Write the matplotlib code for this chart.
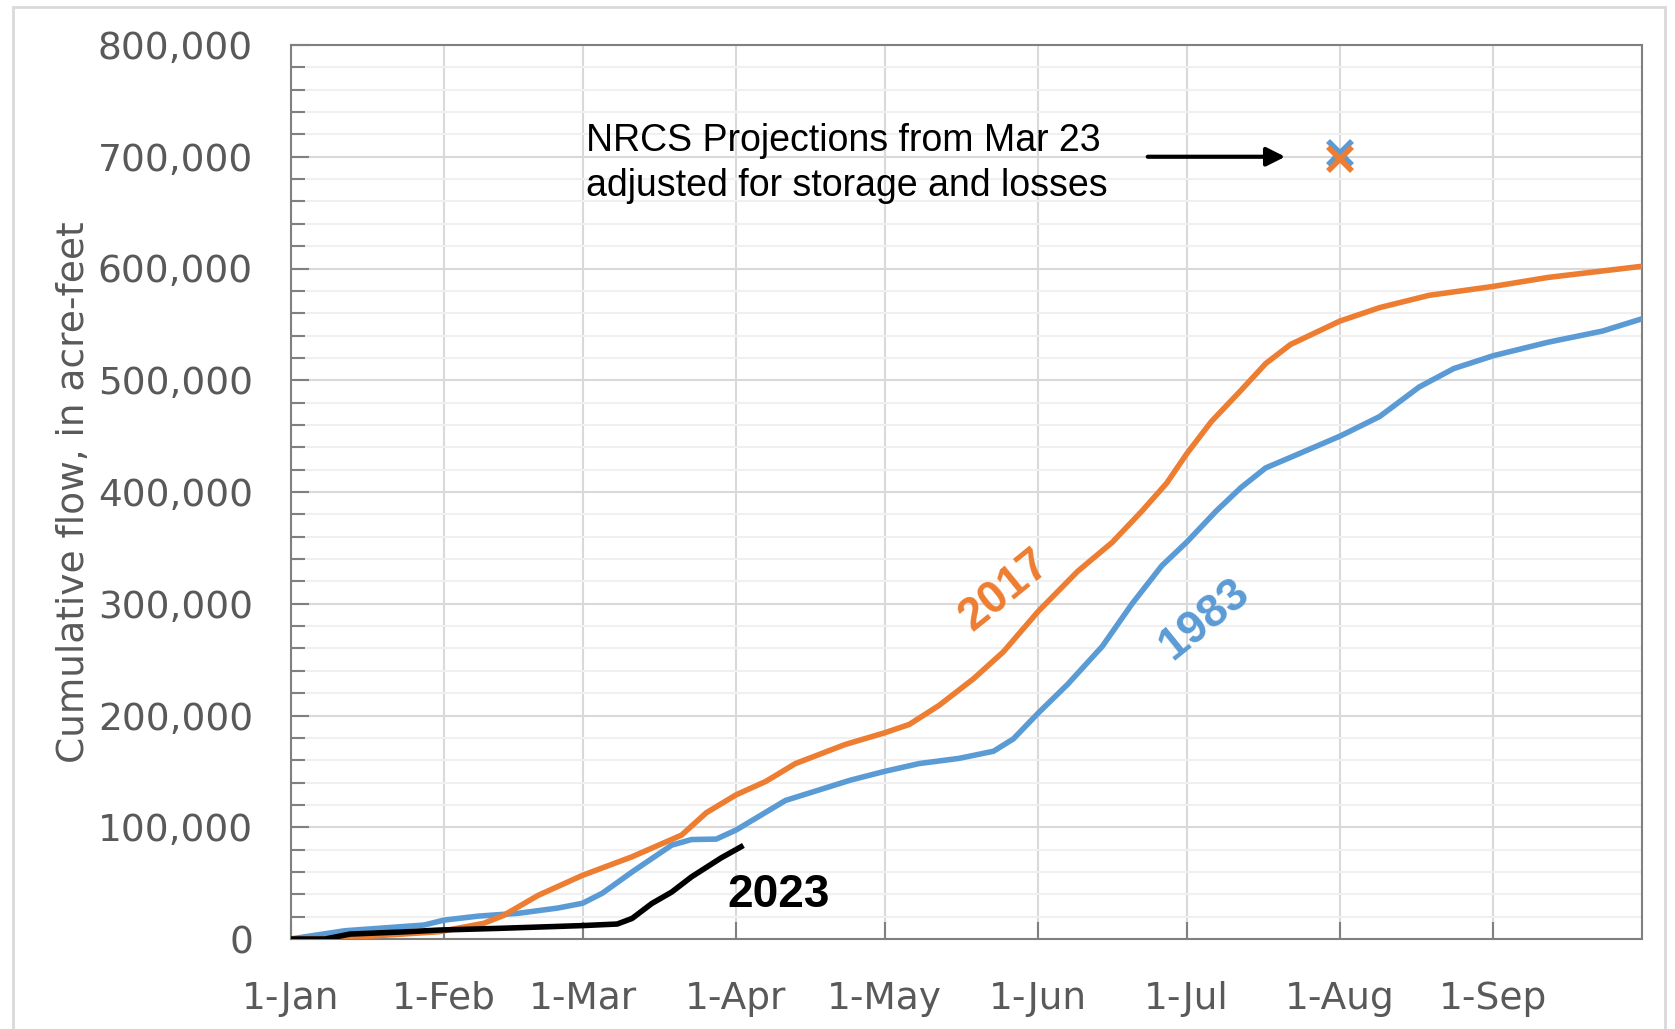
import matplotlib
matplotlib.use('Agg')
import matplotlib.pyplot as plt
from matplotlib.ticker import FuncFormatter, MultipleLocator
from matplotlib.patches import Rectangle

# day of year (0 = 1-Jan) and cumulative flow, acre-feet
days_1983 = [0, 11, 27, 31, 38, 46, 54, 59, 63, 69, 77, 81, 86, 90, 100, 113, 120, 127,
             135, 142, 146, 151, 157, 164, 170, 176, 181, 187, 192, 197, 202, 212, 220,
             228, 235, 243, 254, 265, 273]
flow_1983 = [0, 7400, 12500, 16900, 20500, 23000, 27700, 32000, 41000, 60000, 84000,
             89000, 89400, 97500, 124000, 142000, 150000, 157000, 161600, 168000, 179000,
             202000, 228000, 262000, 300000, 334000, 355000, 383000, 404000, 421600,
             431000, 450000, 467500, 494000, 510500, 522000, 534000, 544000, 555000]

days_2017 = [0, 7, 30, 39, 43, 50, 59, 69, 79, 84, 90, 96, 102, 112, 120, 125, 131, 138,
             144, 151, 159, 166, 172, 177, 181, 186, 192, 197, 202, 212, 220, 230, 243,
             254, 273]
flow_2017 = [0, 0, 6500, 14000, 21000, 39000, 57000, 73600, 93000, 113000, 129000,
             141000, 157000, 174000, 184500, 192000, 209000, 233000, 257000, 293000,
             329000, 355000, 383000, 408000, 434000, 463000, 491000, 515000, 532000,
             553000, 565000, 576000, 584000, 592000, 602000]

days_2023 = [0, 7, 12, 23, 30, 42, 59, 66, 69, 73, 77, 81, 87, 91]
flow_2023 = [0, 0, 4400, 6400, 8000, 9500, 12000, 13400, 18400, 31800, 42000, 55600,
             72600, 82500]

# NRCS projections (1-Aug)
proj_day = 212
proj_1983 = 703000
proj_2017 = 698000

month_days = [0, 31, 59, 90, 120, 151, 181, 212, 243]
month_labels = ['1-Jan', '1-Feb', '1-Mar', '1-Apr', '1-May', '1-Jun', '1-Jul', '1-Aug', '1-Sep']

BLUE = '#5B9BD5'
ORANGE = '#ED7D31'
GRAY = '#595959'

fig = plt.figure(figsize=(16.75, 10.29), dpi=100)
fig.patches.append(Rectangle((13 / 1675, -0.05), (1665 - 13) / 1675, 1.05 - 7 / 1029,
                             transform=fig.transFigure, fill=False,
                             edgecolor='#d9d9d9', lw=2))
ax = fig.add_axes([290.5 / 1675, 90 / 1029, (1642 - 290.5) / 1675, (939 - 45) / 1029])

ax.plot(days_1983, flow_1983, color=BLUE, lw=4, zorder=3, solid_joinstyle='round')
ax.plot(days_2017, flow_2017, color=ORANGE, lw=4, zorder=3, solid_joinstyle='round')
ax.plot(days_2023, flow_2023, color='black', lw=4, zorder=4, solid_joinstyle='round')
ax.plot([proj_day], [proj_1983], marker='x', color=BLUE, ms=17, mew=4, zorder=5)
ax.plot([proj_day], [proj_2017], marker='x', color=ORANGE, ms=17, mew=4, zorder=5)

ax.set_xlim(0, 273)
ax.set_ylim(0, 800000)
ax.set_xticks(month_days)
ax.set_xticklabels(month_labels)
ax.yaxis.set_major_locator(MultipleLocator(100000))
ax.yaxis.set_minor_locator(MultipleLocator(20000))
ax.yaxis.set_major_formatter(FuncFormatter(lambda v, p: '{:,.0f}'.format(v)))

ax.grid(axis='x', which='major', color='#d9d9d9', lw=1.5, zorder=0)
ax.grid(axis='y', which='major', color='#d9d9d9', lw=1.5, zorder=0)
ax.grid(axis='y', which='minor', color='#f0f0f0', lw=1.5, zorder=0)
ax.set_axisbelow(True)

for s in ax.spines.values():
    s.set_color('#808080')
    s.set_linewidth(1.5)

ax.tick_params(axis='y', which='major', direction='in', length=13, width=1.5,
               color='#808080', labelsize=27, labelcolor=GRAY, pad=27)
ax.tick_params(axis='y', which='minor', direction='in', length=10, width=1.5, color='#808080')
ax.tick_params(axis='x', which='major', direction='in', length=12, width=1.5,
               color='#808080', labelsize=27, labelcolor=GRAY, pad=30)
ax.set_ylabel('Cumulative flow, in acre-feet', fontsize=27, color=GRAY, labelpad=4)

ax.text(59.6, 694000, 'NRCS Projections from Mar 23\nadjusted for storage and losses',
        fontsize=27, family='Liberation Sans', color='black', ha='left', va='center',
        linespacing=1.3)
ax.annotate('', xy=(201.5, 700000), xytext=(172.6, 700000),
            arrowprops=dict(arrowstyle='-|>', color='black', lw=3, mutation_scale=28))

ax.text(144.2, 312000, '2017', fontsize=33, fontweight='bold', family='Liberation Sans',
        color=ORANGE, rotation=39, ha='center', va='center')
ax.text(184.5, 286000, '1983', fontsize=33, fontweight='bold', family='Liberation Sans',
        color=BLUE, rotation=39, ha='center', va='center')
ax.text(98.6, 39000, '2023', fontsize=33, fontweight='bold', family='Liberation Sans',
        color='black', ha='center', va='center')

fig.savefig('out.png', dpi=100)
